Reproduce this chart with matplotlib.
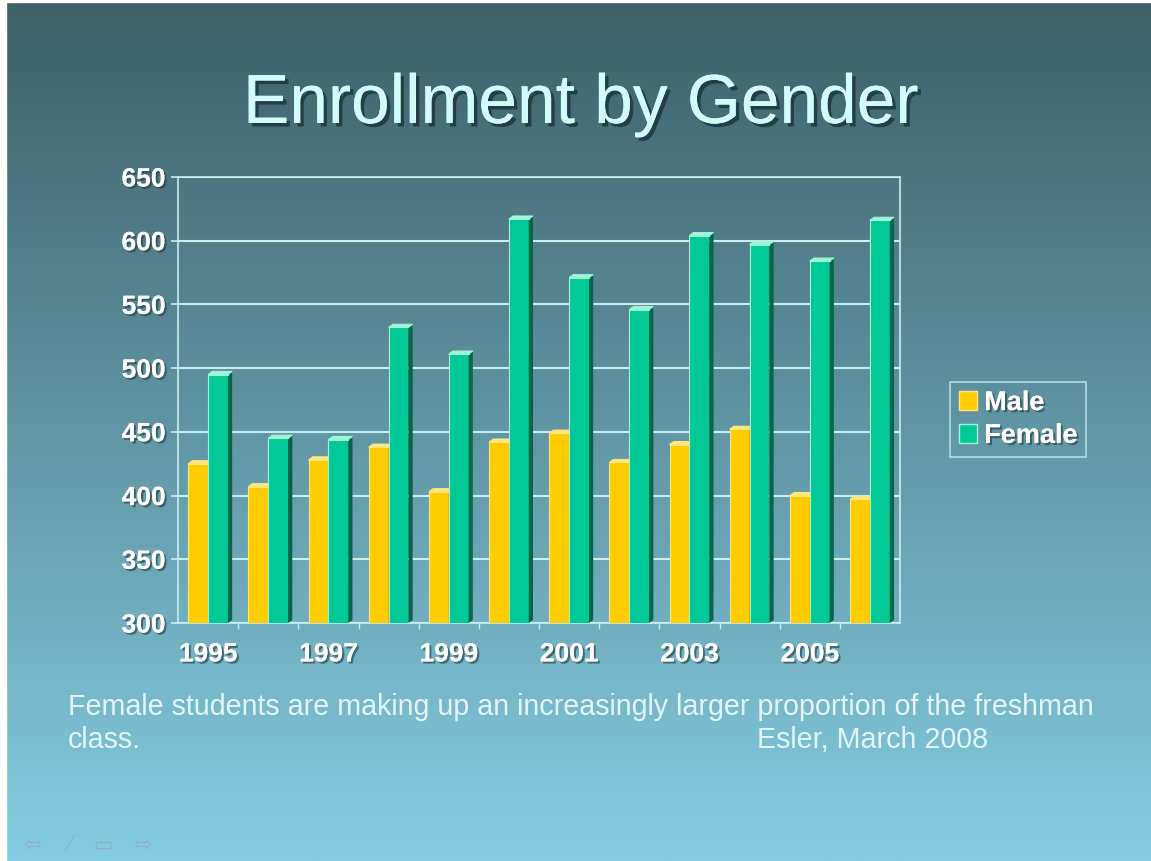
import numpy as np
import matplotlib
matplotlib.use("Agg")
import matplotlib.pyplot as plt
from matplotlib.patches import Polygon, Patch
import matplotlib.patheffects as pe

plt.rcParams['font.family'] = ['Liberation Sans', 'DejaVu Sans']

# enrollment counts per year
years = list(range(1995, 2007))
male = [425, 407, 428, 438, 403, 442, 449, 426, 440, 452, 400, 397]
female = [495, 445, 444, 532, 511, 617, 571, 546, 604, 597, 584, 616]
year_labels = ['1995', '1997', '1999', '2001', '2003', '2005']
y_ticks = [300, 350, 400, 450, 500, 550, 600, 650]

W, H = 1151, 861
fig = plt.figure(figsize=(W / 100, H / 100), dpi=100)

# slide background: vertical teal -> light blue gradient
bg = fig.add_axes([0, 0, 1, 1])
top = np.array([61, 95, 104]) / 255
bot = np.array([133, 205, 225]) / 255
t = np.linspace(0, 1, 400)[:, None]
grad = (top[None, :] * (1 - t) + bot[None, :] * t)[:, None, :]
bg.imshow(grad, aspect='auto', extent=[0, 1, 0, 1])
bg.axvspan(0, 6 / W, color='white')
bg.axhspan(1 - 2 / H, 1, color='white')
bg.set_xlim(0, 1)
bg.set_ylim(0, 1)
bg.axis('off')

shadow = [pe.withSimplePatchShadow(offset=(1.5, -1.5), shadow_rgbFace='#1d3a40', alpha=0.6), pe.Normal()]

fig.text(581 / W, 1 - 105 / H, 'Enrollment by Gender', ha='center', va='center',
         fontsize=50, color='#d2fbfb', path_effects=[pe.withSimplePatchShadow(offset=(2.5, -2.5), shadow_rgbFace='#1b3338', alpha=0.8), pe.Normal()])

ax = fig.add_axes([178 / W, 1 - 623 / H, 722 / W, 446 / H])
ax.set_facecolor('none')
ax.set_xlim(-0.5, len(years) - 0.5)
ax.set_ylim(300, 650)

w = 0.33
dx, dy = 0.07, 2.4
x = np.arange(len(years))


def bar3d(xc, val, face, side, topc):
    ax.bar(xc, val - 300, width=w, bottom=300, color=face, edgecolor='none', zorder=3)
    r = xc + w / 2
    l = xc - w / 2
    ax.add_patch(Polygon([(r, 300), (r + dx, 300 + dy), (r + dx, val + dy), (r, val)],
                         closed=True, fc=side, ec='none', zorder=3))
    ax.add_patch(Polygon([(l, val), (l + dx, val + dy), (r + dx, val + dy), (r, val)],
                         closed=True, fc=topc, ec=topc, lw=0.8, zorder=3))
    ax.plot([l, l, r], [300, val, val], color=topc, lw=0.8, zorder=4)


for i in range(len(years)):
    bar3d(x[i] - w / 2, male[i], '#ffcc00', '#b38f00', '#ffe680')
    bar3d(x[i] + w / 2, female[i], '#00c896', '#00664a', '#9ff5d5')

ax.set_yticks(y_ticks)
ax.set_xticks(x[::2])
ax.set_xticklabels(year_labels)
ax.set_xticks(x[:-1] + 0.5, minor=True)
ax.grid(axis='y', color='#c8eeee', lw=1.5, zorder=1)
for s in ax.spines.values():
    s.set_color('#c8eeee')
    s.set_linewidth(1.2)
ax.tick_params(axis='y', colors='#c8eeee', labelcolor='white', labelsize=19, length=5, width=1.2, pad=4)
ax.tick_params(axis='x', which='major', length=0, labelcolor='white', labelsize=19, pad=14)
ax.tick_params(axis='x', which='minor', length=4, color='#c8eeee', width=1)
for lab in ax.get_xticklabels() + ax.get_yticklabels():
    lab.set_fontweight('bold')
    lab.set_path_effects(shadow)

handles = [Patch(fc='#ffcc00', ec='#ffe680'), Patch(fc='#00c896', ec='#9ff5d5')]
leg = fig.legend(handles, ['Male', 'Female'], loc='center',
                 bbox_to_anchor=(1018 / W, 1 - 419.5 / H), frameon=True,
                 prop={'weight': 'bold', 'size': 19.5}, labelcolor='white',
                 handlelength=0.7, handleheight=0.7, handletextpad=0.25,
                 borderpad=0.3, labelspacing=0.25, fancybox=False)
leg.get_frame().set_facecolor('none')
leg.get_frame().set_edgecolor('#c8eeee')
leg.get_frame().set_linewidth(1.2)
for txt in leg.get_texts():
    txt.set_path_effects(shadow)

cap = '#e2f6fa'
fig.text(68 / W, 1 - 715 / H, 'Female students are making up an increasingly larger proportion of the freshman',
         ha='left', va='baseline', fontsize=20.6, color=cap)
fig.text(68 / W, 1 - 748 / H, 'class.', ha='left', va='baseline', fontsize=20.6, color=cap)
fig.text(757 / W, 1 - 748 / H, 'Esler, March 2008', ha='left', va='baseline', fontsize=20.6, color=cap)

# slide navigation glyphs
for gx, g in zip([32, 70, 103, 143], ['⇦', '⁄', '▭', '⇨']):
    fig.text(gx / W, 1 - 845 / H, g, ha='center', va='center', fontsize=15,
             color='#8fb2c0', family=['DejaVu Sans'])

fig.savefig('out.png', dpi=100)
